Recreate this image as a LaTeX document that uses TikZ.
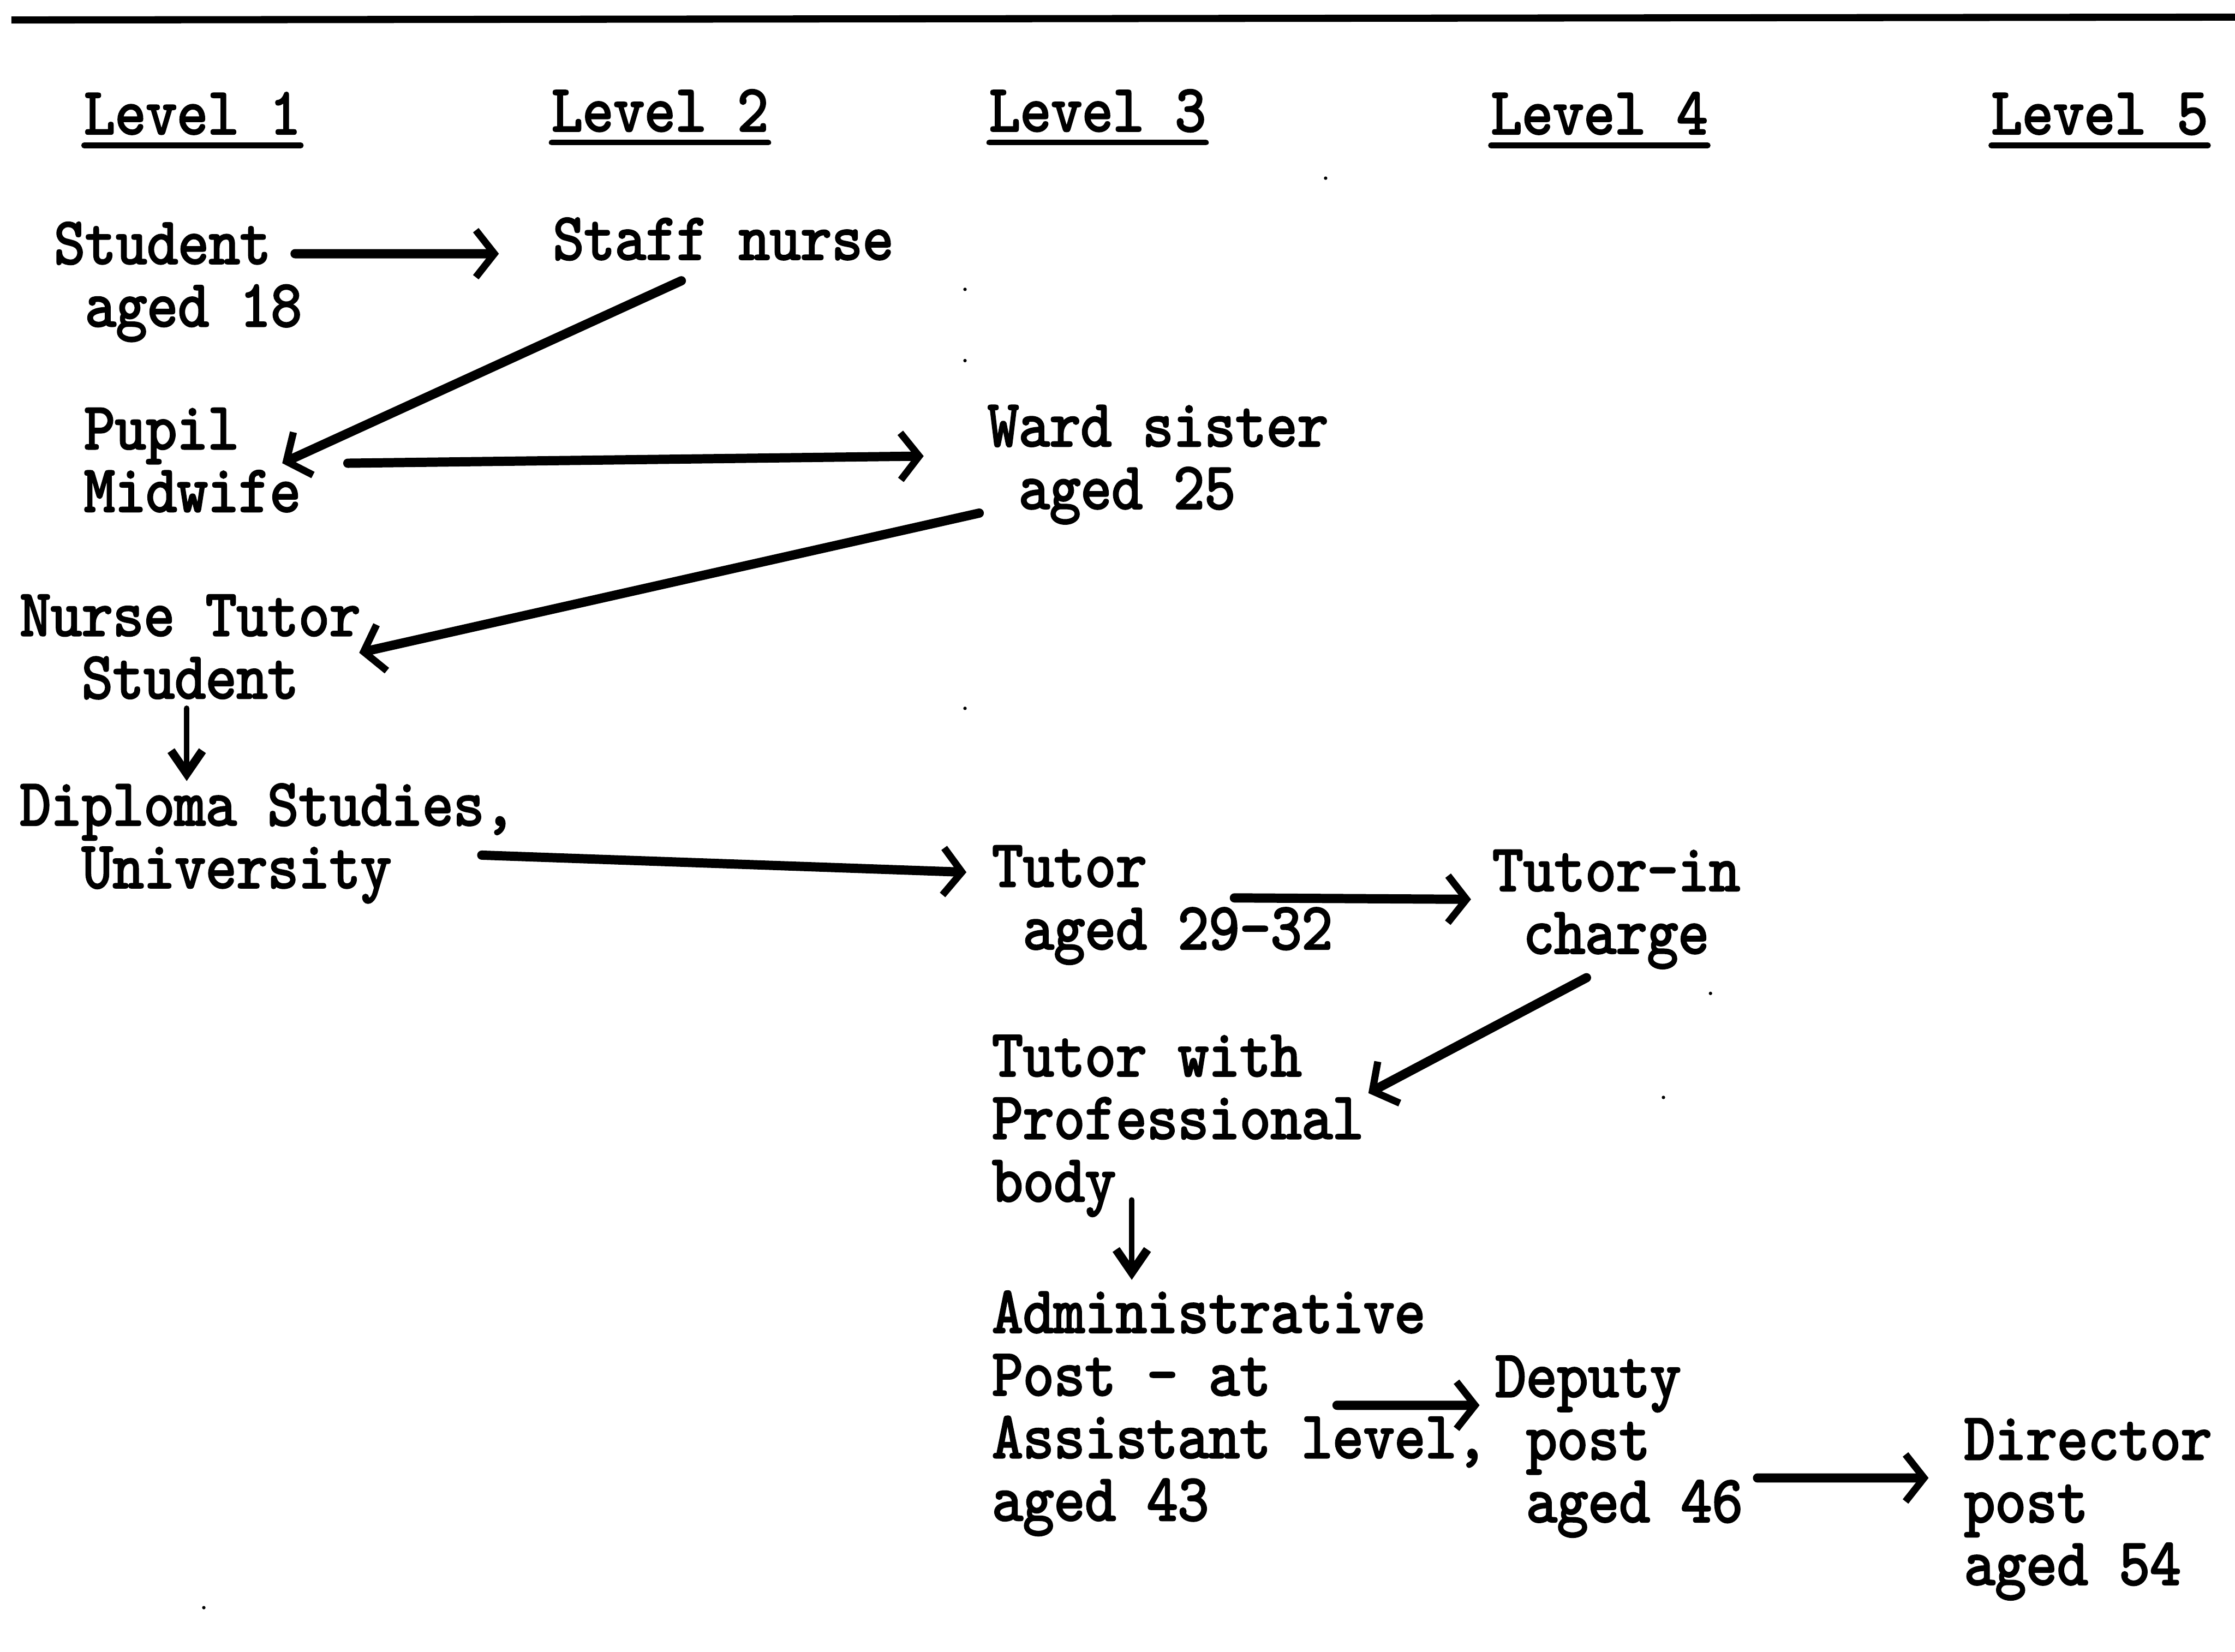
\documentclass[tikz,border=0pt]{standalone}
\usepackage{fontspec}
\newfontfamily\tw{lmmono10-regular.otf}[FakeStretch=0.885,FakeBold=2.6]
\usetikzlibrary{arrows.meta,calc}
\newcommand\myind{\phantom{x}}
\newcommand\ml[1]{\vtop{\halign{##\hfil\cr #1\crcr}}}
\tikzset{
  lbl/.style={anchor=base west, inner sep=0pt, outer sep=0pt,
              font=\tw\fontsize{13.3pt}{12.5pt}\selectfont},
  uline/.style={line width=0.04cm, line cap=round},
  arr/.style={line width=0.065cm, line cap=round,
              -{Straight Barb[length=1.3mm,width=3.3mm,line width=0.05cm]}},
  darr/.style={line width=0.04cm, line cap=round,
              -{Straight Barb[length=1.6mm,width=2.2mm,line width=0.06cm]}},
  speck/.style={fill=black}
}
\begin{document}
\begin{tikzpicture}
\useasboundingbox (0,0) rectangle (15.68,-11.59);
% top rule
\draw[line width=0.05cm] (0.08,-0.14) -- (15.68,-0.12);
% level headers
\node[lbl] (l1) at (0.59,-0.94) {Level 1};
\node[lbl] (l2) at (3.87,-0.92) {Level 2};
\node[lbl] (l3) at (6.94,-0.92) {Level 3};
\node[lbl] (l4) at (10.46,-0.94) {Level 4};
\node[lbl] (l5) at (13.97,-0.94) {Level 5};
\foreach \n in {l1,l2,l3,l4,l5}
  \draw[uline] ([yshift=-0.08cm]\n.base west) -- ([yshift=-0.08cm]\n.base east);
% career nodes
\node[lbl] (stud)  at (0.38,-1.85)  {\ml{Student\cr\myind aged 18}};
\node[lbl] (staff) at (3.88,-1.82)  {Staff nurse};
\node[lbl] (pupil) at (0.59,-3.15)  {\ml{Pupil\cr Midwife}};
\node[lbl] (ward)  at (6.93,-3.13)  {\ml{Ward sister\cr\myind aged 25}};
\node[lbl] (ntut)  at (0.14,-4.46)  {\ml{Nurse Tutor\cr\myind\myind Student}};
\node[lbl] (dipl)  at (0.14,-5.79)  {\ml{Diploma Studies,\cr\myind\myind University}};
\node[lbl] (tutor) at (6.96,-6.22)  {\ml{Tutor\cr\myind aged 29-32}};
\node[lbl] (tic)   at (10.47,-6.25) {\ml{Tutor-in\cr\myind charge}};
\node[lbl] (twp)   at (6.96,-7.55)  {\ml{Tutor with\cr Professional\cr body}};
\node[lbl] (adm)   at (6.96,-9.35)  {\ml{Administrative\cr Post - at\cr Assistant level,\cr aged 43}};
\node[lbl] (dep)   at (10.49,-9.80) {\ml{Deputy\cr\myind post\cr\myind aged 46}};
\node[lbl] (dir)   at (13.78,-10.24){\ml{Director\cr post\cr aged 54}};
% connectors
\draw[arr]  ($(stud.base west)+(1.69,0.07)$)   -- ($(staff.base west)+(-0.38,0.04)$);
\draw[arr]  ($(staff.base west)+(0.90,-0.15)$) -- ($(pupil.base west)+(1.39,-0.10)$);
\draw[arr]  ($(pupil.base west)+(1.85,-0.10)$) -- ($(ward.base west)+(-0.45,-0.07)$);
\draw[arr]  ($(ward.base west)+(-0.06,-0.47)$) -- ($(ntut.base west)+(2.38,-0.12)$);
\draw[darr] ($(ntut.base west)+(1.17,-0.51)$)  -- ($(dipl.base west)+(1.17,0.31)$);
\draw[arr]  ($(dipl.base west)+(3.24,-0.21)$)  -- ($(tutor.base west)+(-0.18,0.10)$);
\draw[arr]  ($(tutor.base west)+(1.70,-0.08)$) -- ($(tic.base west)+(-0.15,-0.06)$);
\draw[arr]  ($(tic.base west)+(0.66,-0.61)$)   -- ($(twp.base west)+(2.64,-0.12)$);
\draw[darr] ($(twp.base west)+(0.98,-0.87)$)   -- ($(adm.base west)+(0.98,0.37)$);
\draw[arr]  ($(adm.base west)+(2.42,-0.51)$)   -- ($(dep.base west)+(-0.11,-0.06)$);
\draw[arr]  ($(dep.base west)+(1.84,-0.57)$)   -- ($(dir.base west)+(-0.25,-0.13)$);
% specks
\foreach \p in {(9.30,-1.25),(6.77,-2.03),(6.77,-2.53),(6.77,-4.97),(12.00,-6.97),(11.67,-7.70),(1.43,-11.28)}
  \fill[speck] \p circle (0.012);
\end{tikzpicture}
\end{document}
